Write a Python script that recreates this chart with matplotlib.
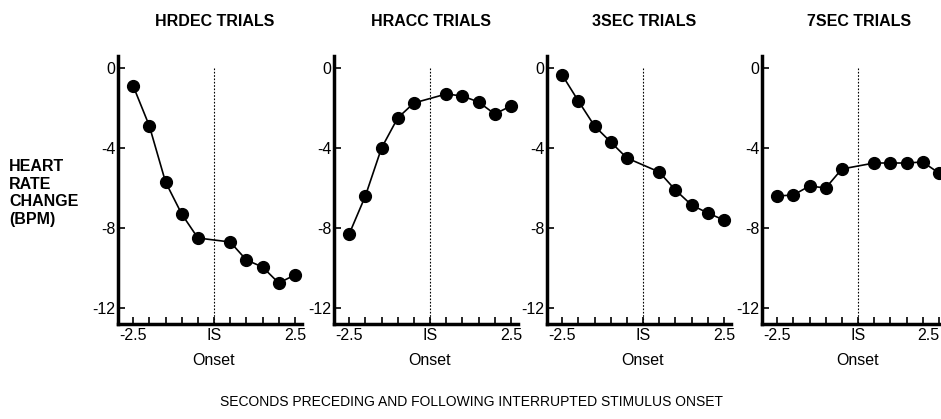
import numpy as np
import matplotlib
matplotlib.use("Agg")
import matplotlib.pyplot as plt

plt.rcParams['font.family'] = ['Liberation Sans', 'DejaVu Sans']

# seconds relative to interrupted stimulus onset (no sample at IS itself)
seconds = [-2.5, -2.0, -1.5, -1.0, -0.5, 0.5, 1.0, 1.5, 2.0, 2.5]

hrdec = [-0.9, -2.9, -5.7, -7.3, -8.5, -8.7, -9.6, -9.95, -10.75, -10.35]
hracc = [-8.3, -6.4, -4.0, -2.5, -1.75, -1.3, -1.4, -1.7, -2.3, -1.9]
sec3 = [-0.35, -1.65, -2.9, -3.7, -4.5, -5.2, -6.1, -6.85, -7.25, -7.6]
sec7 = [-6.4, -6.35, -5.9, -6.0, -5.05, -4.75, -4.75, -4.75, -4.7, -5.25]

titles = ['HRDEC TRIALS', 'HRACC TRIALS', '3SEC TRIALS', '7SEC TRIALS']
series = [hrdec, hracc, sec3, sec7]

y_ticks = [0, -4, -8, -12]
x_ticks = [-2.5, -2.0, -1.5, -1.0, -0.5, 0, 0.5, 1.0, 1.5, 2.0, 2.5]
x_labels = ['-2.5', '', '', '', '', 'IS', '', '', '', '', '2.5']

fig = plt.figure(figsize=(9.41, 4.19), dpi=100)

lefts = [118, 334, 547, 762]
W, H = 941.0, 419.0
for i in range(4):
    ax = fig.add_axes([lefts[i] / W, 1 - 324 / H, 184 / W, (324 - 56) / H])
    ax.plot(seconds, series[i], color='black', lw=1.2, marker='o',
            markersize=8.5, markerfacecolor='black', markeredgecolor='black')
    ax.plot([0, 0], [0, -13], color='black', lw=0.8, ls=(0, (1.5, 1.5)))
    ax.set_xlim(-2.97, 2.72)
    ax.set_ylim(-12.8, 0.6)
    ax.set_yticks(y_ticks)
    ax.set_yticklabels(['0', '-4', '-8', '-12'], fontsize=11.5)
    ax.set_xticks(x_ticks)
    ax.set_xticklabels(x_labels, fontsize=11.5)
    ax.tick_params(direction='in', length=5, width=1.2, pad=3)
    ax.tick_params(axis='y', pad=2)
    if i == 3:
        ax.get_xticklabels()[-1].set_horizontalalignment('right')
    for s in ['top', 'right']:
        ax.spines[s].set_visible(False)
    for s in ['left', 'bottom']:
        ax.spines[s].set_linewidth(2.5)
    ax.text(0, -14.6, 'Onset', ha='center', va='center', fontsize=11.5)
    fig.text((lefts[i] + 97) / W, 1 - 22 / H, titles[i], ha='center',
             va='center', fontsize=11.5, fontweight='bold')

fig.text(9 / W, 1 - 193 / H, 'HEART\nRATE\nCHANGE\n(BPM)', ha='left',
         va='center', fontsize=11.5, fontweight='bold', linespacing=1.2)
fig.text(472 / W, 1 - 402 / H,
         'SECONDS PRECEDING AND FOLLOWING INTERRUPTED STIMULUS ONSET',
         ha='center', va='center', fontsize=10)

fig.savefig('out.png', dpi=100)
